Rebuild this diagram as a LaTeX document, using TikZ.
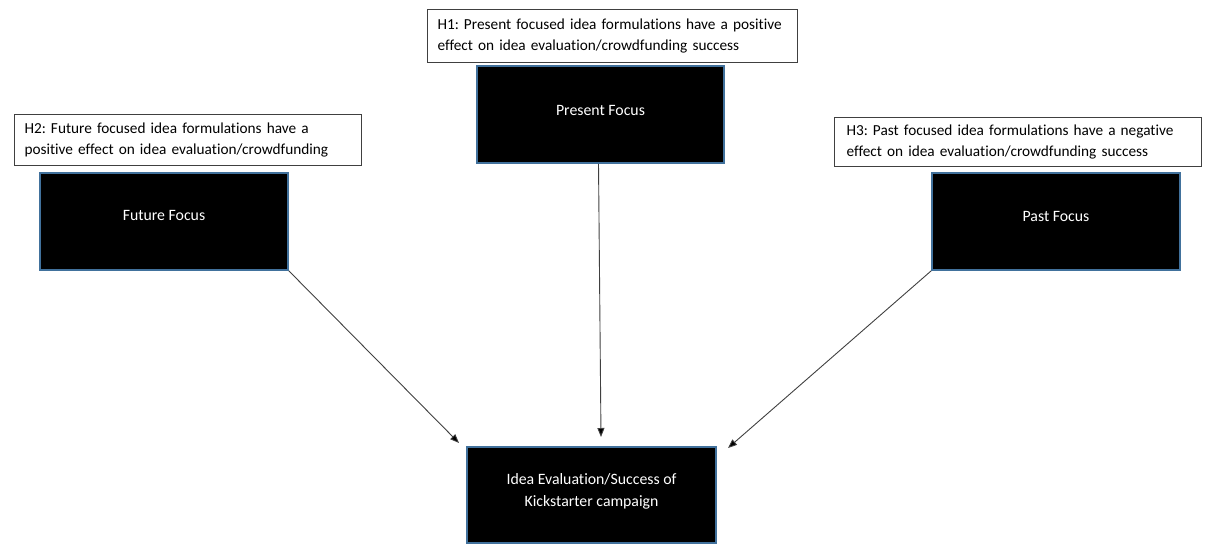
\documentclass[tikz,border=0pt]{standalone}
\usepackage{fontspec}
\setmainfont{Carlito}[Ligatures=NoCommon]
\usetikzlibrary{arrows.meta}
\definecolor{boxblue}{HTML}{41719C}
\definecolor{hgray}{HTML}{404040}
\frenchspacing
\begin{document}
\begin{tikzpicture}[x=1pt,y=-1pt,
  hbox/.style={draw=hgray, line width=1pt, fill=white, anchor=north west,
    align=left, inner ysep=0pt, font=\fontsize{15.3}{21.5}\selectfont},
  blackbox/.style={draw=boxblue, line width=1.6pt, fill=black, inner sep=0pt},
  boxtext/.style={text=white, align=center, font=\fontsize{15.8}{22}\selectfont},
  link/.style={draw=hgray, line width=0.9pt, -{Triangle[length=9pt,width=7pt,fill=black]}}]
\useasboundingbox (0,0) rectangle (1206,547);
% hypothesis boxes
\node[hbox, minimum width=370, minimum height=53, inner xsep=10pt, text width=350] (h1) at (427,9)
  {H1: Present focused idea formulations have a positive\\effect on idea evaluation/crowdfunding success};
\node[hbox, minimum width=347, minimum height=51, inner xsep=10pt, text width=327] (h2) at (14,114)
  {H2: Future focused idea formulations have a\\positive effect on idea evaluation/crowdfunding};
\node[hbox, minimum width=367, minimum height=49, inner xsep=12pt, text width=343] (h3) at (834,117)
  {H3: Past focused idea formulations have a negative\\effect on idea evaluation/crowdfunding success};
% black boxes
\node[blackbox, minimum width=247, minimum height=97] (pres) at (600.5,114.5) {};
\node[blackbox, minimum width=248, minimum height=97] (fut) at (164,221.5) {};
\node[blackbox, minimum width=248, minimum height=97] (past) at (1056,221.5) {};
\node[blackbox, minimum width=249, minimum height=96] (eval) at (591.5,495) {};
\node[boxtext] (presT) at ([yshift=4]pres.center) {Present Focus};
\node[boxtext] (futT) at ([yshift=6]fut.center) {Future Focus};
\node[boxtext] (pastT) at ([yshift=5]past.center) {Past Focus};
\node[boxtext] (evalT) at ([yshift=4]eval.center) {Idea Evaluation/Success of\\Kickstarter campaign};
% arrow ends
\coordinate (e1) at (459,443);
\coordinate (e2) at (601,437);
\coordinate (e3) at (728,448);
\draw[link] (fut.south east) -- (e1);
\draw[link] ([xshift=-2]pres.south) -- (e2);
\draw[link] (past.south west) -- (e3);
\end{tikzpicture}
\end{document}
